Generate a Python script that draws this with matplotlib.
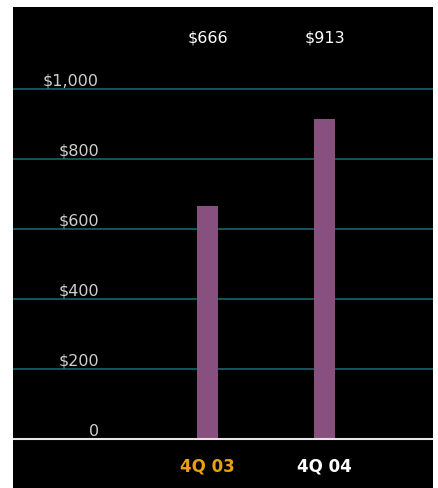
import matplotlib
matplotlib.use('Agg')
import matplotlib.pyplot as plt
from matplotlib.transforms import blended_transform_factory

# data
categories = ['4Q 03', '4Q 04']
values = [666, 913]
value_labels = ['$666', '$913']
cat_colors = ['#e8a010', '#ffffff']
yticks = [0, 200, 400, 600, 800, 1000]
ytick_labels = ['0', '$200', '$400', '$600', '$800', '$1,000']

plt.rcParams['font.family'] = ['DejaVu Sans']

fig = plt.figure(figsize=(4.38, 4.89), dpi=100)
fig.patch.set_facecolor('white')
# black panel: x 13..433 px, y 0..481 px from bottom
ax = fig.add_axes([13 / 438, 0, 420 / 438, 481 / 489])
ax.set_facecolor('black')

x = [1, 2]
ax.bar(x, values, width=0.18, color='#87507f', zorder=3)

# scale: 0.35 px per unit, zero line 49 px above panel bottom
ax.set_ylim(-140, 1234)
ax.set_xlim(-0.662, 2.927)

for t in yticks[1:]:
    ax.axhline(t, color='#14666c', lw=1.2, zorder=1)
ax.axhline(0, color='#e6e6e6', lw=1.5, zorder=4)

trans = blended_transform_factory(ax.transAxes, ax.transData)
for t, lab in zip(yticks, ytick_labels):
    ax.text(86 / 420, t + 4, lab, transform=trans, ha='right', va='bottom',
            color='#cfcfcf', fontsize=11.5)

for xi, lab in zip(x, value_labels):
    ax.text(xi, 1148, lab, ha='center', va='center', color='white',
            fontsize=11.5)

for xi, lab, c in zip(x, categories, cat_colors):
    ax.text(xi, -75, lab, ha='center', va='center', color=c,
            fontsize=12, fontweight='bold')

ax.set_xticks([])
ax.set_yticks([])
for s in ax.spines.values():
    s.set_visible(False)

fig.savefig('out.png', dpi=100, facecolor='white')
